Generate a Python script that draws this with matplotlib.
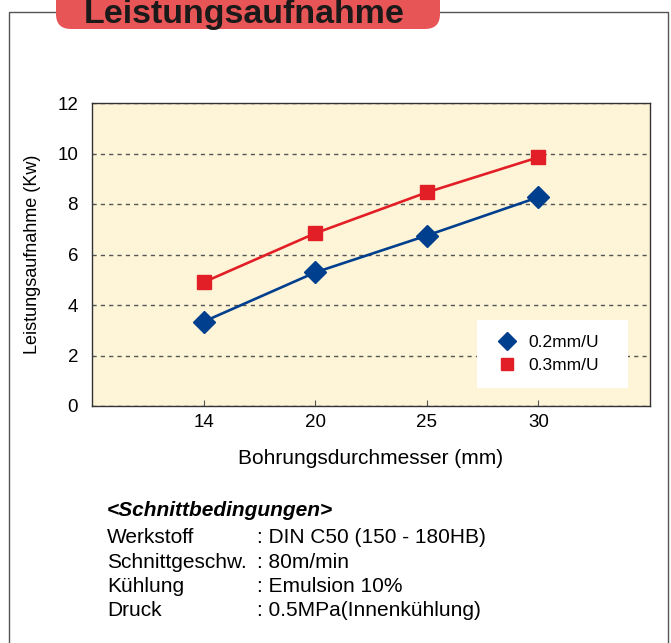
"""Leistungsaufnahme chart: power draw vs bore diameter for two feeds."""
import matplotlib

matplotlib.use("Agg")

import matplotlib.pyplot as plt
from matplotlib.lines import Line2D
from matplotlib.patches import FancyBboxPatch
from matplotlib.transforms import Affine2D

W, H = 671, 643

# data
diameters = ["14", "20", "25", "30"]
power_02 = [3.34, 5.29, 6.75, 8.27]
power_03 = [4.90, 6.84, 8.46, 9.85]
series_labels = ["0.2mm/U", "0.3mm/U"]
y_ticks = [0, 2, 4, 6, 8, 10, 12]

cond_title = "<Schnittbedingungen>"
cond_keys = ["Werkstoff", "Schnittgeschw.", "Kühlung", "Druck"]
cond_vals = [": DIN C50 (150 - 180HB)", ": 80m/min", ": Emulsion 10%",
             ": 0.5MPa(Innenkühlung)"]

BLUE = "#003E8E"
RED = "#E21F26"
CREAM = "#FEF5D8"
PILL = "#E85556"
FRAME = "#555555"

plt.rcParams["font.family"] = ["Liberation Sans", "DejaVu Sans"]


def fx(px):
    return px / W


def fy(py):
    return 1 - py / H


fig = plt.figure(figsize=(W / 100, H / 100), dpi=100)
fig.patch.set_facecolor("white")
# pixel coordinates, origin bottom-left
PX = Affine2D().scale(1 / 100) + fig.dpi_scale_trans

# outer frame (left, top, right)
fig.add_artist(Line2D([9, 9, 668, 668], [0, H - 12, H - 12, 0],
                      transform=PX, color=FRAME, lw=1.0))

# title pill, its top runs off the figure
fig.add_artist(FancyBboxPatch((56, H - 29), 384, 60,
                              boxstyle="round,pad=0,rounding_size=15",
                              transform=PX, facecolor=PILL,
                              edgecolor="none", zorder=3))
fig.text(fx(244), fy(22.7), "Leistungsaufnahme", ha="center",
         va="baseline", fontsize=24.5, fontweight="bold", color="#1a1a1a",
         zorder=4)

ax = fig.add_axes([fx(92), fy(406), fx(558), 303 / H])
ax.set_facecolor(CREAM)

x = range(len(diameters))
ax.plot(x, power_02, color=BLUE, lw=1.9, marker="D", ms=11,
        mec=BLUE, mfc=BLUE, zorder=4)
ax.plot(x, power_03, color=RED, lw=1.9, marker="s", ms=9.5,
        mec=RED, mfc=RED, zorder=4)

ax.set_xlim(-1, 4)
ax.set_ylim(0, 12)
ax.set_xticks(list(x))
ax.set_xticklabels(diameters)
ax.set_yticks(y_ticks)
ax.yaxis.grid(True, color="#555555", lw=1.0, linestyle=(0, (3, 3)))
ax.set_axisbelow(True)

for s in ax.spines.values():
    s.set_color("#333333")
    s.set_linewidth(1.0)

ax.tick_params(axis="x", direction="in", length=4, color="#555555",
               labelsize=13.5, pad=6)
ax.tick_params(axis="y", length=0, labelsize=13.5, pad=10)

ax.set_xlabel("Bohrungsdurchmesser (mm)", fontsize=15, labelpad=13)
ax.set_ylabel("Leistungsaufnahme (Kw)", fontsize=13, labelpad=12)

handles = [
    Line2D([], [], color=BLUE, marker="D", ms=9, linestyle="none"),
    Line2D([], [], color=RED, marker="s", ms=8, linestyle="none"),
]
ax.legend(handles, series_labels, loc="lower left", mode="expand",
          bbox_to_anchor=(0.69, 0.059, 0.27, 0.2), fontsize=12.5,
          frameon=True, fancybox=False, edgecolor="none",
          facecolor="white", framealpha=1, borderpad=0.85,
          handletextpad=0.3, handlelength=1.8, labelspacing=0.45,
          borderaxespad=0)

# cutting conditions block
fig.text(fx(107), fy(516), cond_title, fontsize=15, fontweight="bold",
         fontstyle="italic", va="baseline")
for i, (k, v) in enumerate(zip(cond_keys, cond_vals)):
    yb = 543 + i * 24.5
    fig.text(fx(107), fy(yb), k, fontsize=15, va="baseline")
    fig.text(fx(257), fy(yb), v, fontsize=15, va="baseline")

fig.savefig("out.png", dpi=100, facecolor="white")
